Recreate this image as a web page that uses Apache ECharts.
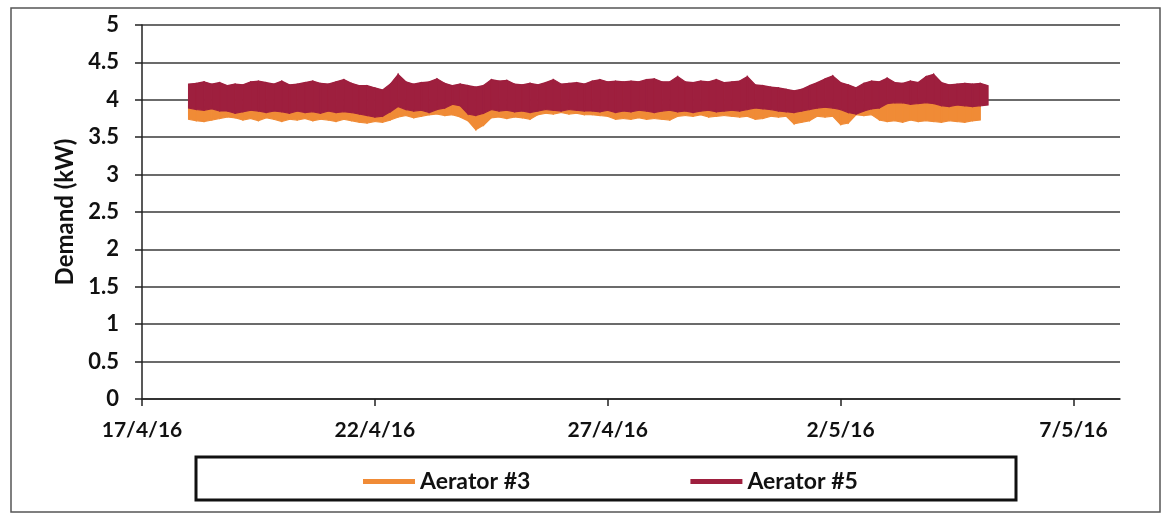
<!DOCTYPE html>
<html>
<head>
<meta charset="utf-8">
<script src="https://cdn.jsdelivr.net/npm/echarts@6/dist/echarts.min.js"></script>
<style>
html,body{margin:0;padding:0;background:#fff;}
#chart{width:1168px;height:516px;}
</style>
</head>
<body>
<div id="chart"></div>
<script>
// X axis: days after 17/4/16; tick labels every 5 days
const xTickLabels = ['17/4/16', '22/4/16', '27/4/16', '2/5/16', '7/5/16'];
const xMaxDay = 21;          // axis ends at 8/5/16
const yTickLabels = ['0','0.5','1','1.5','2','2.5','3','3.5','4','4.5','5'];

// Readings start at 18/4/16 00:00 (day 1), one reading every 4 hours
const startDay = 1;
const stepHours = 4;

// Aerator #5 (dark red): lower and upper envelope of the plotted trace (kW)
const aerator5Lo = [
  3.89,3.87,3.86,3.88,3.85,3.85,3.82,3.84,3.86,3.85,3.83,3.85,3.84,3.82,3.85,3.83,3.84,3.82,3.85,3.83,3.84,3.83,
  3.81,3.79,3.77,3.78,3.84,3.91,3.87,3.85,3.86,3.83,3.87,3.89,
  3.94,3.92,3.81,3.79,3.82,3.87,3.85,3.86,3.84,3.85,3.83,3.85,3.87,3.86,3.85,3.87,3.86,3.85,
  3.85,3.84,3.86,3.83,3.85,3.84,3.86,3.85,3.83,3.85,3.86,3.84,3.85,3.83,3.85,3.86,3.84,3.85,3.86,3.85,3.87,
  3.89,3.88,3.87,3.85,3.84,3.83,3.85,3.87,3.89,3.90,3.89,3.87,3.83,3.81,3.85,3.88,3.89,
  3.95,3.96,3.96,3.94,3.95,3.96,3.95,3.92,3.91,3.93,3.92,3.91,3.92,3.93
];
const aerator5Hi = [
  4.21,4.22,4.24,4.21,4.23,4.19,4.21,4.20,4.24,4.25,4.23,4.21,4.25,4.20,4.21,4.23,4.25,4.22,4.21,4.24,4.27,4.22,
  4.19,4.19,4.16,4.13,4.21,4.34,4.24,4.21,4.23,4.24,4.28,4.22,
  4.19,4.21,4.19,4.17,4.19,4.27,4.25,4.26,4.21,4.20,4.22,4.20,4.23,4.27,4.21,4.22,4.23,4.21,
  4.25,4.27,4.24,4.25,4.24,4.25,4.24,4.27,4.28,4.24,4.24,4.31,4.24,4.23,4.25,4.24,4.27,4.23,4.24,4.25,4.31,
  4.20,4.19,4.17,4.16,4.14,4.12,4.14,4.19,4.23,4.28,4.32,4.23,4.20,4.16,4.22,4.25,4.24,
  4.29,4.23,4.22,4.25,4.23,4.31,4.34,4.23,4.20,4.21,4.22,4.21,4.22,4.19
];

// Aerator #3 (orange): lower and upper envelope of the plotted trace (kW)
const aerator3Lo = [
  3.74,3.72,3.71,3.73,3.75,3.77,3.76,3.73,3.75,3.72,3.76,3.74,3.71,3.74,3.73,3.75,3.72,3.74,3.73,3.71,3.74,3.72,
  3.70,3.69,3.71,3.70,3.73,3.77,3.79,3.76,3.78,3.80,3.81,3.79,
  3.80,3.77,3.72,3.60,3.66,3.76,3.77,3.75,3.77,3.76,3.74,3.80,3.82,3.81,3.83,3.81,3.82,3.80,
  3.80,3.79,3.78,3.74,3.75,3.74,3.76,3.74,3.75,3.74,3.73,3.78,3.79,3.78,3.80,3.77,3.78,3.79,3.78,3.77,3.78,
  3.74,3.75,3.78,3.77,3.78,3.68,3.70,3.72,3.78,3.77,3.78,3.67,3.69,3.80,3.79,3.80,
  3.73,3.71,3.72,3.70,3.73,3.71,3.72,3.71,3.70,3.72,3.71,3.70,3.72,3.73
];
const aerator3Hi = [
  3.92,3.93,3.91,3.92,3.94,3.92,3.90,3.93,3.92,3.91,3.93,3.92,3.90,3.92,3.93,3.91,3.92,3.90,3.93,3.91,3.92,3.91,
  3.90,3.88,3.87,3.88,3.92,3.96,3.95,3.93,3.94,3.93,3.96,3.97,
  3.99,3.97,3.92,3.88,3.90,3.95,3.93,3.94,3.92,3.93,3.91,3.93,3.95,3.94,3.93,3.95,3.94,3.93,
  3.93,3.92,3.94,3.91,3.93,3.92,3.94,3.93,3.91,3.93,3.94,3.92,3.93,3.91,3.93,3.94,3.92,3.93,3.94,3.93,3.95,
  3.96,3.95,3.94,3.93,3.92,3.91,3.93,3.95,3.97,3.98,3.96,3.95,3.91,3.89,3.93,3.96,3.97,
  4.00,4.01,4.02,4.00,4.01,4.02,4.01,3.99,3.98,3.99,3.98,3.97,3.98,3.99
];

const ORANGE = '#F08B36';
const RED = '#9E1F3E';

function dayOf(i) { return startDay + i * stepHours / 24; }
// one item per segment between consecutive readings: [x0, lo0, hi0, x1, lo1, hi1]
function segments(lo, hi) {
  const out = [];
  for (let i = 0; i < lo.length - 1; i++) {
    out.push([dayOf(i), lo[i], hi[i], dayOf(i + 1), lo[i + 1], hi[i + 1]]);
  }
  return out;
}
function bandRenderer(color) {
  return function (params, api) {
    const p = [
      api.coord([api.value(0), api.value(2)]),
      api.coord([api.value(3), api.value(5)]),
      api.coord([api.value(3), api.value(4)]),
      api.coord([api.value(0), api.value(1)])
    ];
    return {type: 'polygon', shape: {points: p},
            style: {fill: color, stroke: color, lineWidth: 1.2}};
  };
}

const FONT = 'Lato';

const chart = echarts.init(document.getElementById('chart'), null, {renderer: 'canvas'});
chart.setOption({
  backgroundColor: '#fff',
  animation: false,
  textStyle: {fontFamily: FONT},
  grid: {left: 142, right: 48, top: 25, bottom: 117, containLabel: false},
  xAxis: {
    type: 'value',
    min: 0, max: xMaxDay, interval: 5,
    axisLine: {show: true, lineStyle: {color: '#222', width: 1.5}},
    axisTick: {show: true, length: 7, lineStyle: {color: '#222', width: 1.5}},
    splitLine: {show: false},
    axisLabel: {
      margin: 21, color: '#111', fontSize: 21, fontWeight: 'bold', fontFamily: FONT,
      showMaxLabel: false,
      formatter: function (v) {
        const k = v / 5;
        return (Number.isInteger(k) && k < xTickLabels.length) ? xTickLabels[k] : '';
      }
    }
  },
  yAxis: {
    type: 'value',
    min: 0, max: 5, interval: 0.5,
    name: 'Demand (kW)', nameLocation: 'middle', nameGap: 63, nameRotate: 90,
    nameTextStyle: {color: '#111', fontSize: 24, fontWeight: 'bold', fontFamily: FONT},
    axisLine: {show: true, lineStyle: {color: '#222', width: 1.5}},
    axisTick: {show: true, length: 7, lineStyle: {color: '#222', width: 1.5}},
    splitLine: {show: true, lineStyle: {color: '#3a3a3a', width: 1.6}},
    axisLabel: {
      margin: 23, color: '#111', fontSize: 22, fontWeight: 'bold', fontFamily: FONT,
      formatter: function (v) {
        const k = Math.round(v / 0.5);
        return yTickLabels[k] !== undefined ? yTickLabels[k] : '';
      }
    }
  },
  legend: {
    data: ['Aerator #3', 'Aerator #5'],
    left: 358, top: 465,
    icon: 'rect', itemWidth: 52, itemHeight: 5, itemGap: 160,
    textStyle: {color: '#111', fontSize: 23, fontWeight: 'bold', fontFamily: FONT}
  },
  graphic: [
    {type: 'rect', shape: {x: 11, y: 8, width: 1149, height: 504},
     style: {fill: 'none', stroke: '#555', lineWidth: 1.5}, silent: true, z: -1},
    {type: 'rect', shape: {x: 196, y: 457, width: 820, height: 43},
     style: {fill: 'none', stroke: '#111', lineWidth: 3}, silent: true}
  ],
  series: [
    {name: 'Aerator #3', type: 'custom', data: segments(aerator3Lo, aerator3Hi),
     renderItem: bandRenderer(ORANGE), itemStyle: {color: ORANGE},
     encode: {x: [0, 3], y: [1, 2, 4, 5]}, z: 2},
    {name: 'Aerator #5', type: 'custom', data: segments(aerator5Lo, aerator5Hi),
     renderItem: bandRenderer(RED), itemStyle: {color: RED},
     encode: {x: [0, 3], y: [1, 2, 4, 5]}, z: 3}
  ]
});
</script>
</body>
</html>
